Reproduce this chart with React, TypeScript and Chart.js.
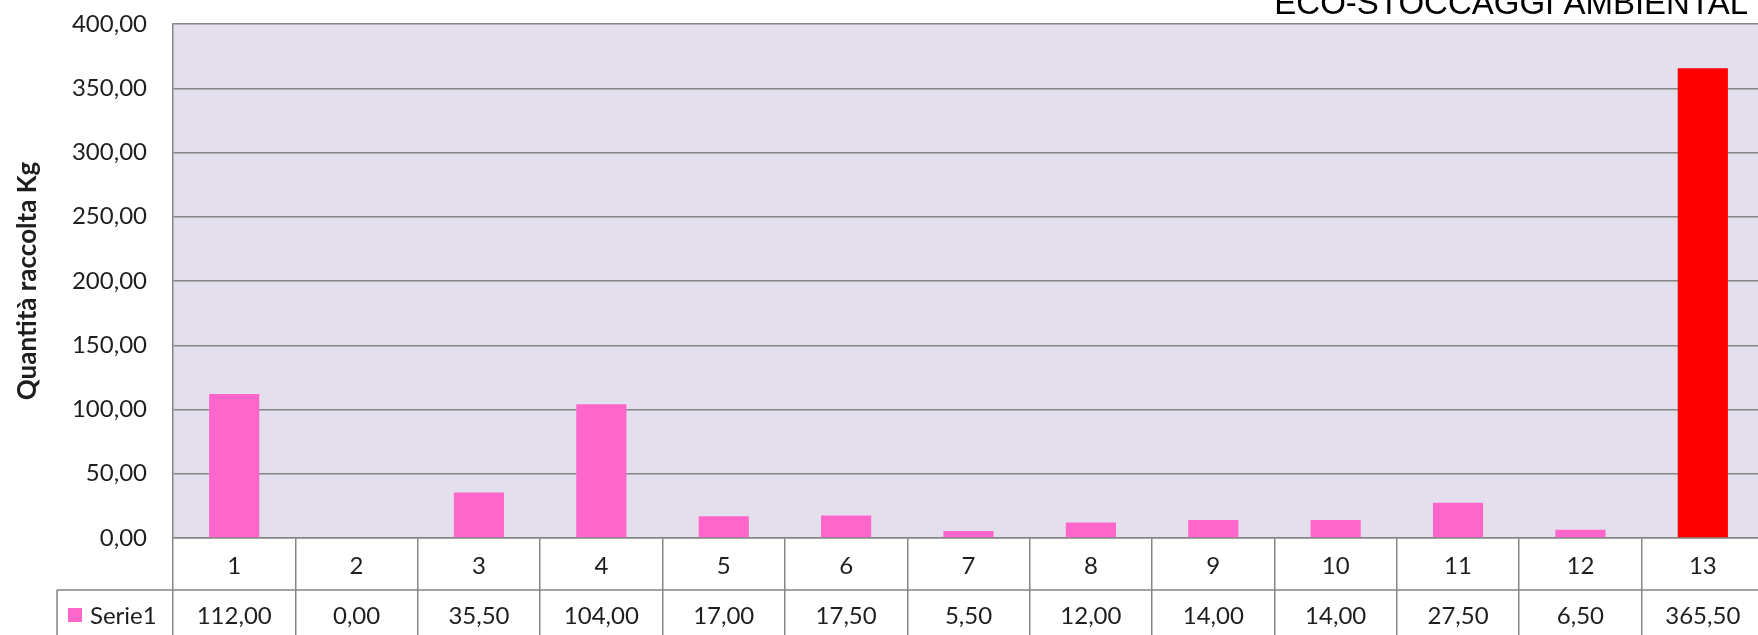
import React, { useEffect, useRef } from 'react';
import { Chart, registerables } from 'chart.js';

Chart.register(...registerables);

// ---- data ----
const categories = ['1', '2', '3', '4', '5', '6', '7', '8', '9', '10', '11', '12', '13'];
const serie1 = [112.0, 0.0, 35.5, 104.0, 17.0, 17.5, 5.5, 12.0, 14.0, 14.0, 27.5, 6.5, 365.5];
const seriesLabel = 'Serie1';
const PINK = '#FF66CC';
const RED = '#FF0000';
const barColors = [PINK, PINK, PINK, PINK, PINK, PINK, PINK, PINK, PINK, PINK, PINK, PINK, RED];
const yMin = 0;
const yMax = 400;
const yStep = 50;
const chartTitle = 'ECO-STOCCAGGI AMBIENTAL';
const yAxisTitle = 'Quantità raccolta Kg';

// ---- styles ----
const GRID = '#858585';
const TEXT = '#1e1e1e';
const PLOT_BG = '#E4DFEC';
const FONT = 'Lato';
const ROW_H = 52;
const LEGEND_LEFT = 57;

const fmt = (v: number) => v.toFixed(2).replace('.', ',');

const tablePlugin = {
  id: 'dataTable',
  beforeDraw(chart: any) {
    const { ctx, chartArea } = chart;
    ctx.save();
    ctx.fillStyle = PLOT_BG;
    ctx.fillRect(chartArea.left, chartArea.top, chartArea.right - chartArea.left, chartArea.bottom - chartArea.top);
    ctx.restore();
  },
  afterDraw(chart: any) {
    const { ctx, chartArea, scales } = chart;
    const xs = scales.x;
    const ds = chart.data.datasets[0];
    const y1 = chartArea.bottom + ROW_H;
    ctx.save();
    ctx.strokeStyle = GRID;
    ctx.lineWidth = 1.5;
    ctx.beginPath();
    ctx.moveTo(LEGEND_LEFT, y1);
    ctx.lineTo(chartArea.right, y1);
    ctx.moveTo(LEGEND_LEFT, y1);
    ctx.lineTo(LEGEND_LEFT, chart.height);
    ctx.stroke();

    // values row
    ctx.fillStyle = TEXT;
    ctx.font = `24px ${FONT}`;
    ctx.textAlign = 'center';
    ctx.textBaseline = 'middle';
    const yc = y1 + ROW_H / 2;
    (ds.data as number[]).forEach((v, i) => {
      ctx.fillText(fmt(v), xs.getPixelForValue(i), yc);
    });

    // legend cell
    ctx.fillStyle = PINK;
    ctx.fillRect(LEGEND_LEFT + 11, yc - 8, 14, 14);
    ctx.fillStyle = TEXT;
    ctx.textAlign = 'left';
    ctx.fillText(ds.label, LEGEND_LEFT + 33, yc);

    // title (cropped at the top)
    ctx.fillStyle = '#000000';
    ctx.font = `33px "Liberation Sans", Arial, sans-serif`;
    ctx.textAlign = 'right';
    ctx.textBaseline = 'alphabetic';
    ctx.fillText(chartTitle, chartArea.right - 16, chartArea.top - 10);
    ctx.restore();
  },
};

export default function App() {
  const ref = useRef<HTMLCanvasElement | null>(null);

  useEffect(() => {
    if (!ref.current) return;
    const chart = new Chart(ref.current, {
      type: 'bar',
      data: {
        labels: categories,
        datasets: [
          {
            label: seriesLabel,
            data: serie1,
            backgroundColor: barColors,
            borderWidth: 0,
            barPercentage: 0.41,
            categoryPercentage: 1,
          },
        ],
      },
      options: {
        responsive: false,
        animation: false,
        devicePixelRatio: 1,
        layout: { padding: { top: 24, right: 11, left: 0, bottom: 0 } },
        plugins: {
          legend: { display: false },
          tooltip: { enabled: false },
          title: { display: false },
        },
        scales: {
          x: {
            type: 'category',
            offset: true,
            afterFit: (s: any) => {
              s.height = 112;
            },
            grid: {
              display: true,
              offset: true,
              drawOnChartArea: false,
              drawTicks: true,
              tickLength: 112,
              color: GRID,
              lineWidth: 1.5,
            },
            border: { display: true, color: GRID, width: 1.5 },
            ticks: {
              autoSkip: false,
              maxRotation: 0,
              minRotation: 0,
              padding: -98.4,
              color: TEXT,
              font: { family: FONT, size: 24 },
            },
          },
          y: {
            min: yMin,
            max: yMax,
            afterFit: (s: any) => {
              s.width = 173;
              s.paddingTop = 0;
              s.paddingBottom = 0;
            },
            grid: { color: GRID, lineWidth: 1.5, drawTicks: false },
            border: { display: true, color: GRID, width: 1.5 },
            ticks: {
              stepSize: yStep,
              padding: 26,
              color: TEXT,
              font: { family: FONT, size: 24 },
              callback: (v: any) => fmt(Number(v)),
            },
            title: {
              display: true,
              text: yAxisTitle,
              color: TEXT,
              font: { family: FONT, size: 26, weight: 'bold' },
              padding: { top: 12, bottom: 0 },
            },
          },
        },
      },
      plugins: [tablePlugin],
    });
    return () => chart.destroy();
  }, []);

  return (
    <div
      style={{
        position: 'fixed',
        left: 0,
        top: 0,
        width: 1758,
        height: 635,
        overflow: 'hidden',
        background: '#ffffff',
      }}
    >
      <canvas ref={ref} width={1775} height={650} style={{ width: 1775, height: 650, display: 'block' }} />
    </div>
  );
}
